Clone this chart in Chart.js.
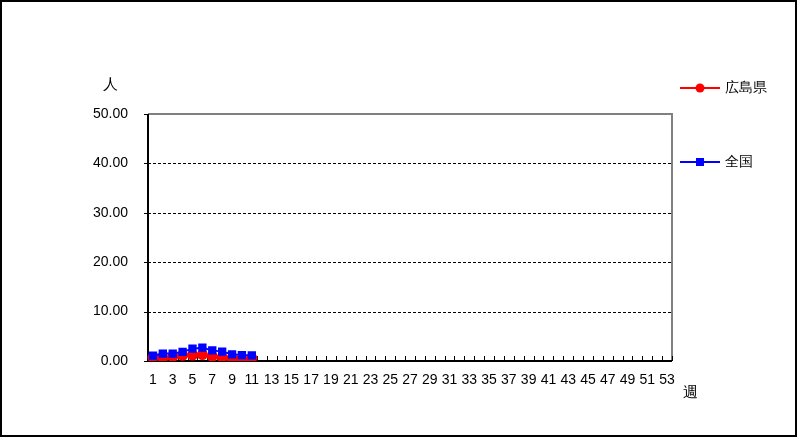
<!DOCTYPE html>
<html>
<head>
<meta charset="utf-8">
<script src="https://cdn.jsdelivr.net/npm/chart.js@4"></script>
<style>
  html, body { margin: 0; padding: 0; background: #fff; }
  #wrap { width: 797px; height: 437px; position: relative; }
</style>
</head>
<body>
<div id="wrap"><canvas id="weekChart"></canvas></div>
<script>
// 週ごとの定点当たり報告数
const weeks = Array.from({ length: 53 }, (_, i) => String(i + 1));
const hiroshima = [0.7, 0.65, 0.9, 1.15, 1.2, 1.3, 0.95, 0.75, 0.55, 0.4, 0.6];
const zenkoku = [1.1, 1.5, 1.5, 1.85, 2.5, 2.7, 2.15, 1.9, 1.35, 1.2, 1.15];
const yTicks = [0, 10, 20, 30, 40, 50];

const FONT = "'Liberation Sans', Arial, sans-serif";

// 枠・目盛り・凡例・単位の描画
const decor = {
  id: 'decor',
  beforeDatasetsDraw(chart) {
    const { ctx, chartArea: a, scales } = chart;
    ctx.save();
    // 横の点線
    ctx.strokeStyle = '#000';
    ctx.lineWidth = 1;
    ctx.setLineDash([3, 2]);
    yTicks.forEach(v => {
      if (v === 0 || v === 50) return;
      const y = Math.round(scales.y.getPixelForValue(v)) + 0.5;
      ctx.beginPath(); ctx.moveTo(a.left, y); ctx.lineTo(a.right, y); ctx.stroke();
    });
    ctx.setLineDash([]);
    // 外枠（上・右は灰色）
    ctx.strokeStyle = '#808080';
    ctx.lineWidth = 2;
    ctx.beginPath();
    ctx.moveTo(a.left, a.top); ctx.lineTo(a.right, a.top); ctx.lineTo(a.right, a.bottom);
    ctx.stroke();
    // 軸線
    ctx.strokeStyle = '#000';
    ctx.lineWidth = 2;
    ctx.beginPath();
    ctx.moveTo(a.left, a.top); ctx.lineTo(a.left, a.bottom); ctx.lineTo(a.right, a.bottom);
    ctx.stroke();
    // x軸の目盛り（内向き）
    ctx.lineWidth = 1;
    const step = (a.right - a.left) / weeks.length;
    for (let i = 0; i <= weeks.length; i++) {
      const x = Math.round(a.left + i * step) + 0.5;
      ctx.beginPath(); ctx.moveTo(x, a.bottom); ctx.lineTo(x, a.bottom - 5); ctx.stroke();
    }
    // y軸の目盛り
    yTicks.forEach(v => {
      const y = Math.round(scales.y.getPixelForValue(v)) + 0.5;
      ctx.beginPath(); ctx.moveTo(a.left - 4, y); ctx.lineTo(a.left, y); ctx.stroke();
    });
    ctx.restore();
  },
  afterDraw(chart) {
    const { ctx } = chart;
    ctx.save();
    ctx.fillStyle = '#000';
    ctx.font = '15px ' + FONT;
    ctx.textAlign = 'center';
    ctx.textBaseline = 'middle';
    ctx.fillText('人', 110, 85);
    ctx.fillText('週', 690, 393);
    // 凡例
    const items = [
      { ds: chart.data.datasets[0], y: 88 },
      { ds: chart.data.datasets[1], y: 162 }
    ];
    items.forEach(({ ds, y }) => {
      ctx.strokeStyle = ds.borderColor;
      ctx.lineWidth = 2;
      ctx.beginPath(); ctx.moveTo(680, y); ctx.lineTo(720, y); ctx.stroke();
      ctx.fillStyle = ds.backgroundColor;
      if (ds.pointStyle === 'rect') {
        ctx.fillRect(696, y - 4, 8, 8);
      } else {
        ctx.beginPath(); ctx.arc(700, y, 4.5, 0, Math.PI * 2); ctx.fill();
      }
      ctx.fillStyle = '#000';
      ctx.font = '14px ' + FONT;
      ctx.textAlign = 'left';
      ctx.fillText(ds.label, 725, y);
    });
    // 全体の枠
    ctx.strokeStyle = '#000';
    ctx.lineWidth = 2;
    ctx.strokeRect(1, 1, 795, 435);
    ctx.restore();
  }
};

new Chart(document.getElementById('weekChart').getContext('2d'), {
  type: 'line',
  data: {
    labels: weeks,
    datasets: [
      {
        label: '広島県', data: hiroshima, order: 2,
        borderColor: '#ff0000', backgroundColor: '#ff0000',
        pointStyle: 'circle', pointRadius: 4.5, borderWidth: 2
      },
      {
        label: '全国', data: zenkoku, order: 1,
        borderColor: '#0000ff', backgroundColor: '#0000ff',
        pointStyle: 'rect', pointRadius: 4.5, borderWidth: 2
      }
    ]
  },
  options: {
    responsive: true,
    maintainAspectRatio: false,
    animation: false,
    layout: { padding: { top: 114, right: 125, left: 0, bottom: 0 } },
    plugins: { legend: { display: false }, tooltip: { enabled: false } },
    scales: {
      x: {
        offset: true,
        grid: { display: false, drawTicks: false },
        border: { display: false },
        afterFit: (s) => { s.height = 76; },
        ticks: {
          autoSkip: false, maxRotation: 0, padding: 11,
          color: '#000', font: { family: FONT, size: 14 },
          callback: (v, i) => (i % 2 === 0 ? weeks[i] : '')
        }
      },
      y: {
        min: 0, max: 50,
        afterFit: (s) => { s.width = 148; },
        afterBuildTicks: (s) => { s.ticks = yTicks.map(v => ({ value: v })); },
        grid: { display: false, drawTicks: false },
        border: { display: false },
        ticks: {
          padding: 20, color: '#000', font: { family: FONT, size: 14 },
          callback: (v) => v.toFixed(2)
        }
      }
    }
  },
  plugins: [decor]
});
</script>
</body>
</html>
